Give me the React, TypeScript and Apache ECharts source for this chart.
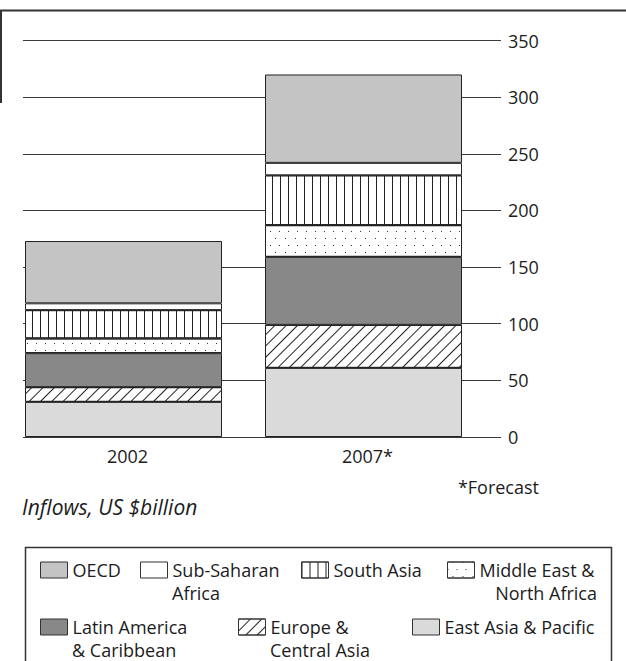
import React, { useEffect, useRef } from "react";
import * as echarts from "echarts";

// ---- data (US $billion) ----
const years = ["2002", "2007*"];
const eastAsiaPacific = [31, 61];
const europeCentralAsia = [13, 38];
const latinAmericaCaribbean = [30, 60];
const middleEastNorthAfrica = [13, 28];
const southAsia = [25, 44];
const subSaharanAfrica = [6, 11];
const oecd = [55, 78];

const yMin = 0;
const yMax = 350;
const yStep = 50;

// legend label lines (first line beside the swatch, second line below it)
const legendFirstLine: Record<string, string> = {
  "OECD": "OECD",
  "Sub-Saharan Africa": "Sub-Saharan",
  "South Asia": "South Asia",
  "Middle East & North Africa": "Middle East &",
  "Latin America & Caribbean": "Latin America",
  "Europe & Central Asia": "Europe &",
  "East Asia & Pacific": "East Asia & Pacific",
};
const legendSecondLine: Record<string, string> = {
  "Sub-Saharan Africa": "Africa",
  "Middle East & North Africa": "North Africa",
  "Latin America & Caribbean": "& Caribbean",
  "Europe & Central Asia": "Central Asia",
};

const FONT = "'Open Sans', 'Noto Sans', sans-serif";
const INK = "#1c1c1c";
const FS = 18;

export default function App() {
  const ref = useRef<HTMLDivElement>(null);

  useEffect(() => {
    if (!ref.current) return;
    const chart = echarts.init(ref.current, undefined, { renderer: "svg" });

    const border = { borderColor: "#222", borderWidth: 1 };
    const seriesDefs = [
      {
        name: "East Asia & Pacific",
        data: eastAsiaPacific,
        itemStyle: { color: "#dadada", ...border },
      },
      {
        name: "Europe & Central Asia",
        data: europeCentralAsia,
        itemStyle: {
          color: "#ffffff",
          ...border,
          decal: {
            symbol: "rect",
            symbolSize: 1,
            color: "#222",
            dashArrayX: [1, 6.5],
            dashArrayY: [20, 0],
            rotation: Math.PI / 4,
          },
        },
      },
      {
        name: "Latin America & Caribbean",
        data: latinAmericaCaribbean,
        itemStyle: { color: "#888888", ...border },
      },
      {
        name: "Middle East & North Africa",
        data: middleEastNorthAfrica,
        itemStyle: {
          color: "#ffffff",
          ...border,
          decal: {
            symbol: "rect",
            symbolSize: 1,
            color: "#333",
            dashArrayX: [
              [1, 8],
              [0, 4.5, 1, 3.5],
            ],
            dashArrayY: [1, 6],
          },
        },
      },
      {
        name: "South Asia",
        data: southAsia,
        itemStyle: {
          color: "#ffffff",
          ...border,
          decal: {
            symbol: "rect",
            symbolSize: 1,
            color: "#222",
            dashArrayX: [1, 7],
            dashArrayY: [20, 0],
          },
        },
      },
      {
        name: "Sub-Saharan Africa",
        data: subSaharanAfrica,
        itemStyle: { color: "#ffffff", ...border },
      },
      {
        name: "OECD",
        data: oecd,
        itemStyle: { color: "#c4c4c4", ...border },
      },
    ];

    // centre y of the first text line of each legend row
    const row1 = 570;
    const row2 = 627;
    const lineGap = 23;
    const swW = 27;
    const swH = 16;
    const legendSpots: any[] = [
      { name: "OECD", left: 40, row: row1 },
      { name: "Sub-Saharan Africa", left: 140, row: row1 },
      { name: "South Asia", left: 301, row: row1 },
      { name: "Middle East & North Africa", left: 447, row: row1, rightAlign: 597 },
      { name: "Latin America & Caribbean", left: 40, row: row2 },
      { name: "Europe & Central Asia", left: 238, row: row2 },
      { name: "East Asia & Pacific", left: 412, row: row2 },
    ];

    const secondLineTexts = legendSpots
      .filter((s) => legendSecondLine[s.name])
      .map((s) => ({
        type: "text",
        x: s.rightAlign ? s.rightAlign : s.left + swW + 5,
        y: s.row + lineGap,
        style: {
          text: legendSecondLine[s.name],
          font: `${FS}px ${FONT}`,
          fill: INK,
          align: s.rightAlign ? "right" : "left",
          verticalAlign: "middle",
        },
      }));

    const option: any = {
      animation: false,
      backgroundColor: "#ffffff",
      textStyle: { fontFamily: FONT, color: INK },
      grid: [
        { left: 3.5, top: 40.5, width: 480, height: 396.5 },
        { left: 23, top: 40.5, width: 478, height: 396.5 },
      ],
      xAxis: [
        {
          gridIndex: 0,
          type: "category",
          data: years,
          axisLine: { show: false },
          axisTick: { show: false },
          axisLabel: {
            fontSize: FS,
            color: INK,
            fontFamily: FONT,
            margin: 10,
            padding: [0, 0, 0, 8],
          },
        },
        { gridIndex: 1, type: "value", min: 0, max: 1, show: false },
      ],
      yAxis: [
        { gridIndex: 0, type: "value", min: yMin, max: yMax, interval: yStep, show: false },
        {
          gridIndex: 1,
          type: "value",
          position: "right",
          min: yMin,
          max: yMax,
          interval: yStep,
          axisLine: { show: false },
          axisTick: { show: false },
          splitLine: { show: true, lineStyle: { color: "#3a3a3a", width: 1 } },
          axisLabel: { fontSize: FS, color: INK, fontFamily: FONT, margin: 7 },
        },
      ],
      legend: legendSpots.map(({ name, left, row }) => ({
        data: [{ name, icon: "rect" }],
        left,
        top: row - swH / 2 - 3,
        padding: 0,
        itemWidth: swW,
        itemHeight: swH,
        selectedMode: false,
        itemStyle: { borderColor: "#333", borderWidth: 1 },
        formatter: (n: string) => legendFirstLine[n],
        textStyle: {
          fontSize: FS,
          color: INK,
          fontFamily: FONT,
          lineHeight: 22,
        },
      })),
      series: seriesDefs.map((s) => ({
        type: "bar",
        stack: "total",
        xAxisIndex: 0,
        yAxisIndex: 0,
        barWidth: 197,
        name: s.name,
        data: s.data,
        itemStyle: s.itemStyle,
        emphasis: { disabled: true },
      })),
      graphic: [
        {
          type: "line",
          shape: { x1: 0, y1: 10.5, x2: 626, y2: 10.5 },
          style: { stroke: "#333", lineWidth: 2 },
        },
        {
          type: "line",
          shape: { x1: 1, y1: 10, x2: 1, y2: 103 },
          style: { stroke: "#333", lineWidth: 2 },
        },
        {
          type: "text",
          x: 539,
          y: 487,
          style: {
            text: "*Forecast",
            font: `${FS}px ${FONT}`,
            fill: INK,
            align: "right",
            verticalAlign: "middle",
          },
        },
        {
          type: "text",
          x: 22,
          y: 507,
          style: {
            text: "Inflows, US $billion",
            font: `italic 21px ${FONT}`,
            fill: INK,
            align: "left",
            verticalAlign: "middle",
          },
        },
        {
          type: "rect",
          shape: { x: 25.5, y: 547.5, width: 586, height: 200 },
          style: { fill: "none", stroke: "#333", lineWidth: 1.5 },
        },
        ...secondLineTexts,
      ],
    };

    chart.setOption(option);
    return () => chart.dispose();
  }, []);

  return (
    <div
      ref={ref}
      style={{ position: "fixed", left: 0, top: 0, width: 626, height: 661, background: "#fff" }}
    />
  );
}
